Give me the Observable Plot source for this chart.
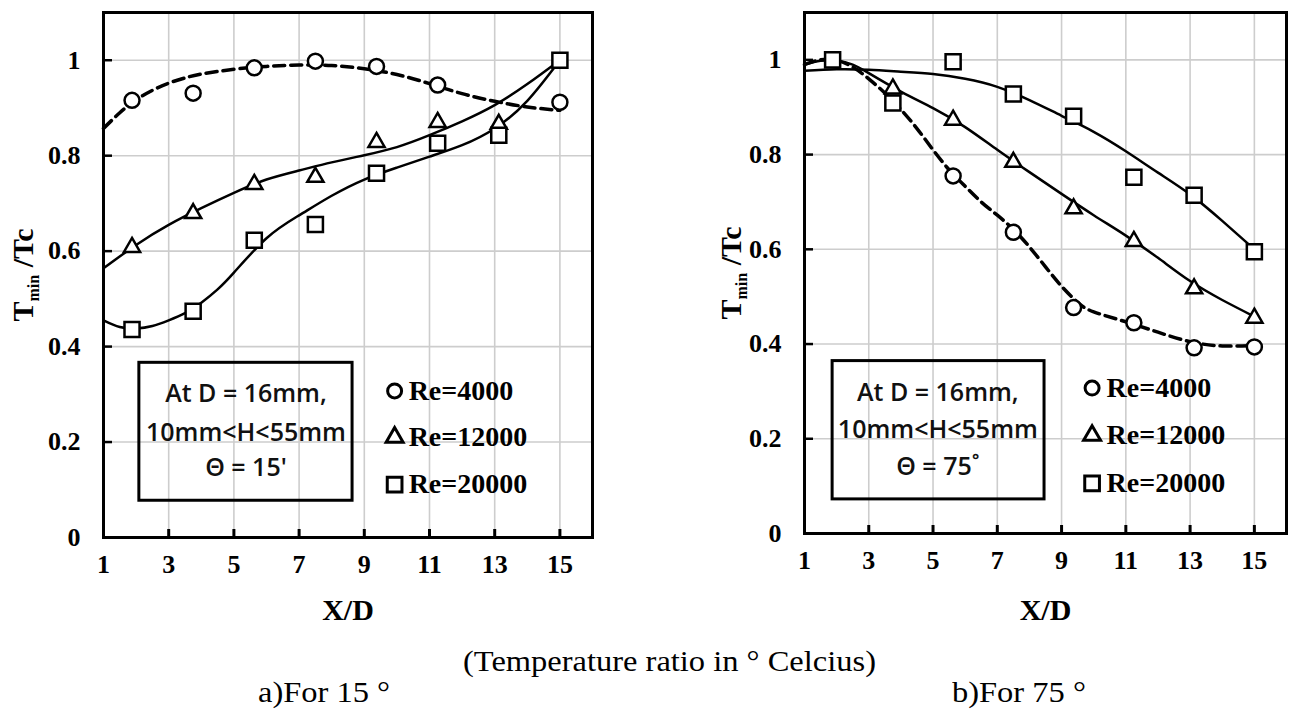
<!DOCTYPE html>
<html><head><meta charset="utf-8">
<script src="https://cdn.jsdelivr.net/npm/d3@7"></script>
<script src="https://cdn.jsdelivr.net/npm/@observablehq/plot@0.6"></script>
<style>
body{margin:0;background:#fff;}
#wrap{position:relative;width:1290px;height:711px;overflow:hidden;background:#fff;}
#left,#right{position:absolute;top:0;}
#left{left:0;} #right{left:645px;}
.cap{position:absolute;font-family:"Liberation Serif","Times New Roman",serif;font-size:29px;line-height:28px;white-space:pre;transform:scaleX(1.12);transform-origin:0 0;color:#000;}
</style></head><body>
<div id="wrap"><div id="left"></div><div id="right"></div>
<div class="cap" id="cap0" style="left:463px;top:647px"></div>
<div class="cap" id="cap1" style="left:258px;top:678px"></div>
<div class="cap" id="cap2" style="left:952px;top:678px"></div>
</div>
<script>
// ---------- data ----------
const seriesNames = ["Re=4000", "Re=12000", "Re=20000"];
const xTickVals = [1, 3, 5, 7, 9, 11, 13, 15];
const xTickLabels = ["1", "3", "5", "7", "9", "11", "13", "15"];
const xGrid = [3, 5, 7, 9, 11, 13, 15];
const yTickVals = [0, 0.2, 0.4, 0.6, 0.8, 1];
const yTickLabels = ["0", "0.2", "0.4", "0.6", "0.8", "1"];
const yGrid = [0.2, 0.4, 0.6, 0.8, 1];
const captions = ["(Temperature ratio in \u00b0 Celcius)", "a)For 15 \u00b0", "b)For 75 \u00b0"];

// panel a) theta = 15
const a4000x = [1.875, 3.75, 5.625, 7.5, 9.375, 11.25, 15];
const a4000y = [0.916, 0.931, 0.984, 0.998, 0.987, 0.948, 0.912];
const a12000x = [1.875, 3.75, 5.625, 7.5, 9.375, 11.25, 13.125];
const a12000y = [0.608, 0.679, 0.740, 0.755, 0.828, 0.870, 0.866];
const a20000x = [1.875, 3.75, 5.625, 7.5, 9.375, 11.25, 13.125, 15];
const a20000y = [0.436, 0.474, 0.623, 0.656, 0.763, 0.826, 0.843, 1.0];
// trend curves a)
const ca4000x = [1, 1.5, 2, 2.5, 3, 3.5, 4, 5, 6, 7, 8, 9, 10, 11, 12, 13, 14, 15];
const ca4000y = [0.857, 0.89, 0.917, 0.937, 0.952, 0.963, 0.971, 0.981, 0.987, 0.99, 0.989, 0.982, 0.97, 0.951, 0.93, 0.914, 0.902, 0.895];
const ca12000x = [1, 2, 3, 4, 5, 6, 7, 8, 9, 10, 11, 12, 13, 14, 15];
const ca12000y = [0.564, 0.613, 0.655, 0.69, 0.722, 0.75, 0.769, 0.786, 0.801, 0.818, 0.843, 0.872, 0.906, 0.95, 1.0];
const ca20000x = [1, 1.5, 2, 2.5, 3, 3.5, 4, 4.5, 5, 6, 7, 8, 9, 10, 11, 12, 13, 14, 15];
const ca20000y = [0.455, 0.441, 0.438, 0.443, 0.455, 0.47, 0.492, 0.52, 0.555, 0.627, 0.675, 0.716, 0.75, 0.775, 0.798, 0.822, 0.857, 0.915, 1.0];

// panel b) theta = 75
const b4000x = [5.625, 7.5, 9.375, 11.25, 13.125, 15];
const b4000y = [0.755, 0.636, 0.477, 0.445, 0.392, 0.394];
const b12000x = [3.75, 5.625, 7.5, 9.375, 11.25, 13.125, 15];
const b12000y = [0.939, 0.873, 0.784, 0.686, 0.617, 0.517, 0.455];
const b20000x = [1.875, 3.75, 5.625, 7.5, 9.375, 11.25, 13.125, 15];
const b20000y = [1.0, 0.909, 0.996, 0.928, 0.881, 0.752, 0.714, 0.595];
// trend curves b)
const cb4000x = [1, 1.5, 2, 2.5, 3, 3.5, 4, 4.5, 5, 5.5, 6, 6.5, 7, 7.5, 8, 8.5, 9, 9.5, 10, 11, 12, 13, 14, 15];
const cb4000y = [0.99, 1.0, 0.999, 0.985, 0.96, 0.93, 0.895, 0.855, 0.81, 0.768, 0.733, 0.7, 0.672, 0.642, 0.605, 0.563, 0.522, 0.488, 0.468, 0.447, 0.425, 0.405, 0.396, 0.397];
const cb12000x = [1, 1.5, 2, 2.5, 3, 4, 5, 6, 7, 8, 9, 10, 11, 12, 13, 14, 15];
const cb12000y = [0.99, 0.998, 0.998, 0.99, 0.972, 0.933, 0.898, 0.858, 0.81, 0.763, 0.717, 0.672, 0.629, 0.582, 0.533, 0.493, 0.458];
const cb20000x = [1, 2, 3, 4, 5, 6, 7, 8, 9, 10, 11, 12, 13, 14, 15];
const cb20000y = [0.977, 0.98, 0.979, 0.975, 0.97, 0.96, 0.943, 0.915, 0.882, 0.848, 0.807, 0.762, 0.716, 0.66, 0.60];

// annotation text
const boxLinesA = ["At D = 16mm,", "10mm<H<55mm", "\u0398 = 15'"];
const boxLinesB = ["At D = 16mm,", "10mm<H<55mm", "\u0398 = 75\u02da"];
const legendSymbols = ["circle", "triangle", "square"];

// ---------- drawing ----------
const pts = (xs, ys) => xs.map((x, i) => ({x, y: ys[i]}));
const SERIF = "Liberation Serif";
const legendR = {circle: 7, triangle: 6.3, square: 8.3};

function panel(p) {
  const dotStyle = {x: "x", y: "y", stroke: "black", strokeWidth: 2.5, fill: "white"};
  const legend = seriesNames.map((name, i) => ({name, sym: legendSymbols[i], y: p.legY[i]}));
  const boxText = p.boxLines.map((t, i) => ({t, y: p.boxLineY[i]}));
  const chart = Plot.plot({
    width: 645, height: 640,
    marginLeft: p.ml, marginRight: p.mr, marginTop: 12, marginBottom: p.mb,
    x: {domain: [1, 16], axis: null},
    y: {domain: [0, 1.1], axis: null},
    style: {background: "white", color: "black", fontFamily: SERIF},
    marks: [
      Plot.gridX(xGrid, {stroke: "#cdcdcd", strokeOpacity: 1, strokeWidth: 1.6}),
      Plot.gridY(yGrid, {stroke: "#cdcdcd", strokeOpacity: 1, strokeWidth: 1.6}),
      Plot.rect([p.box], {x1: "x1", x2: "x2", y1: "y1", y2: "y2", fill: "none", stroke: "black", strokeWidth: 3}),
      Plot.text(boxText, {x: p.boxCx, y: "y", text: "t", fontFamily: "Open Sans", fontWeight: 600, fontSize: 25, fill: "#111"}),
      Plot.line(pts(p.c4000x, p.c4000y), {x: "x", y: "y", curve: "natural", stroke: "black", strokeWidth: 3.5, strokeDasharray: "11,6"}),
      Plot.line(pts(p.c12000x, p.c12000y), {x: "x", y: "y", curve: "natural", stroke: "black", strokeWidth: 2.5}),
      Plot.line(pts(p.c20000x, p.c20000y), {x: "x", y: "y", curve: "natural", stroke: "black", strokeWidth: 2.5}),
      Plot.dot(pts(p.d4000x, p.d4000y), {...dotStyle, symbol: "circle", r: 7.5}),
      Plot.dot(pts(p.d12000x, p.d12000y), {...dotStyle, symbol: "triangle", r: 6}),
      Plot.dot(pts(p.d20000x, p.d20000y), {...dotStyle, symbol: "square", r: 8.5}),
      ...legend.map(d => Plot.dot([d], {x: p.legSymX, y: "y", symbol: d.sym, r: legendR[d.sym], stroke: "black", strokeWidth: 3, fill: "white"})),
      Plot.text(legend, {x: p.legTextX, y: "y", text: "name", textAnchor: "start", fontSize: 28, fontWeight: "bold", fontFamily: SERIF}),
      Plot.ruleX(xTickVals.slice(1), {x: d => d, y1: 0, y2: 0, insetBottom: 8, stroke: "black", strokeWidth: 3}),
      Plot.ruleY(yTickVals.slice(1), {y: d => d, x1: 1, x2: 1, insetRight: -9, stroke: "black", strokeWidth: 2.5}),
      Plot.axisX(xTickVals, {tickSize: 0, tickPadding: 17, tickFormat: d => xTickLabels[xTickVals.indexOf(d)], fontSize: 26, fontWeight: "bold", fontFamily: SERIF}),
      Plot.axisY(yTickVals, {tickSize: 0, tickPadding: 23, tickFormat: d => yTickLabels[yTickVals.indexOf(d)], fontSize: 26, fontWeight: "bold", fontFamily: SERIF}),
      Plot.frame({stroke: "black", strokeWidth: 3}),
      Plot.text(["X/D"], {text: d => d, frameAnchor: "bottom", dy: p.xlabDy, lineAnchor: "middle", fontSize: 30, fontWeight: "bold", fontFamily: SERIF})
    ]
  });
  const svg = d3.select(chart);
  const t = svg.append("text")
    .attr("transform", `translate(${p.ylx},${p.yly}) rotate(-90)`)
    .attr("text-anchor", "middle")
    .attr("font-family", SERIF).attr("font-size", 30).attr("font-weight", "bold")
    .attr("fill", "black").style("white-space", "pre");
  t.append("tspan").text("T");
  t.append("tspan").attr("font-size", 16).attr("dy", 6).text("min");
  t.append("tspan").attr("dy", -6).text(" /Tc");
  return chart;
}

document.getElementById("left").appendChild(panel({
  ml: 103, mr: 53, mb: 103,
  d4000x: a4000x, d4000y: a4000y, d12000x: a12000x, d12000y: a12000y, d20000x: a20000x, d20000y: a20000y,
  c4000x: ca4000x, c4000y: ca4000y, c12000x: ca12000x, c12000y: ca12000y, c20000x: ca20000x, c20000y: ca20000y,
  box: {x1: 2.10, x2: 8.64, y1: 0.077, y2: 0.366}, boxLines: boxLinesA, boxLineY: [0.301, 0.220, 0.146], boxCx: 5.37,
  legSymX: 9.93, legTextX: 10.36, legY: [0.307, 0.21, 0.111],
  xlabDy: 73, ylx: 33, yly: 275
}));
document.getElementById("right").appendChild(panel({
  ml: 159, mr: 4, mb: 107,
  d4000x: b4000x, d4000y: b4000y, d12000x: b12000x, d12000y: b12000y, d20000x: b20000x, d20000y: b20000y,
  c4000x: cb4000x, c4000y: cb4000y, c12000x: cb12000x, c12000y: cb12000y, c20000x: cb20000x, c20000y: cb20000y,
  box: {x1: 1.875, x2: 8.47, y1: 0.072, y2: 0.364}, boxLines: boxLinesB, boxLineY: [0.297, 0.218, 0.140], boxCx: 5.15,
  legSymX: 9.95, legTextX: 10.4, legY: [0.307, 0.207, 0.106],
  xlabDy: 77, ylx: 96, yly: 273
}));
captions.forEach((c, i) => document.getElementById("cap" + i).textContent = c);
</script>
</body></html>
